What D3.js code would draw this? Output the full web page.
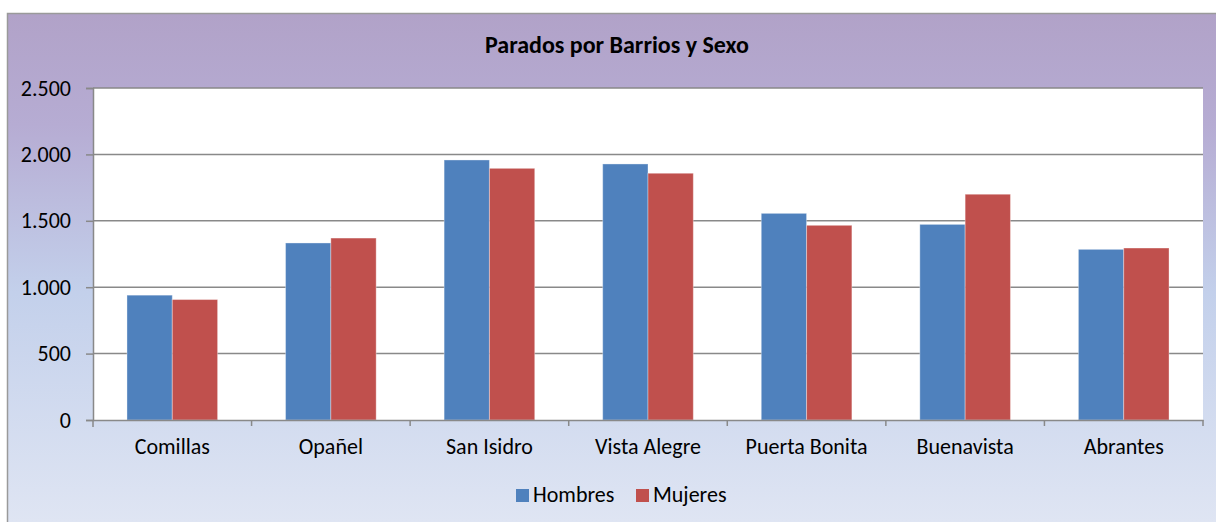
<!DOCTYPE html>
<html>
<head>
<meta charset="utf-8">
<script src="https://cdn.jsdelivr.net/npm/d3@7"></script>
<style>
  body { margin: 0; background: #fff; }
  svg { display: block; }
  text { font-family: Carlito, Lato, "Liberation Sans", sans-serif; fill: #000; }
</style>
</head>
<body>
<div id="chart"></div>
<script>
var barrios = ["Comillas", "Opañel", "San Isidro", "Vista Alegre", "Puerta Bonita", "Buenavista", "Abrantes"];
var series = ["Hombres", "Mujeres"];
var hombres = [940, 1333, 1958, 1928, 1556, 1473, 1285];
var mujeres = [907, 1370, 1895, 1858, 1466, 1700, 1295];
var yTicks = [0, 500, 1000, 1500, 2000, 2500];
var colors = ["#4f81bd", "#c0504d"];

var W = 1216, H = 522;
var plot = {left: 93, top: 88, right: 1203, bottom: 420};

var svg = d3.select("#chart").append("svg")
  .attr("width", W)
  .attr("height", H);

// background gradient
var grad = svg.append("defs").append("linearGradient")
  .attr("id", "bg")
  .attr("x1", 0).attr("y1", 0).attr("x2", 0).attr("y2", 1);
grad.append("stop").attr("offset", "0%").attr("stop-color", "#b1a2c8");
grad.append("stop").attr("offset", "22%").attr("stop-color", "#b6acd3");
grad.append("stop").attr("offset", "55%").attr("stop-color", "#c3d0eb");
grad.append("stop").attr("offset", "100%").attr("stop-color", "#dfe5f3");

svg.append("rect")
  .attr("x", 7).attr("y", 13)
  .attr("width", W - 7).attr("height", H - 13)
  .style("fill", "url(#bg)");
svg.append("path")
  .attr("d", "M7.5," + H + "V13.5H" + W)
  .style("fill", "none")
  .style("stroke", "#9a9a9a")
  .style("stroke-width", 1.5);

svg.append("rect")
  .attr("x", plot.left).attr("y", plot.top)
  .attr("width", plot.right - plot.left).attr("height", plot.bottom - plot.top)
  .style("fill", "#fff");

var x0 = d3.scaleBand()
  .domain(barrios)
  .range([plot.left, plot.right])
  .paddingInner(0)
  .paddingOuter(0);

var step = x0.bandwidth();
var barW = step / 3.5;

var x1 = d3.scaleBand()
  .domain(series)
  .range([(step - 2 * barW) / 2, (step + 2 * barW) / 2]);

var y = d3.scaleLinear()
  .domain([0, 2500])
  .range([plot.bottom, plot.top]);

// gridlines
svg.append("g")
  .selectAll("line")
  .data(yTicks.slice(1))
  .join("line")
  .attr("x1", plot.left)
  .attr("x2", plot.right)
  .attr("y1", function(d) { return y(d); })
  .attr("y2", function(d) { return y(d); })
  .style("stroke", "#898989")
  .style("stroke-width", 1.5);

// bars
var rows = barrios.map(function(b, i) {
  return {barrio: b, values: [hombres[i], mujeres[i]]};
});

var groups = svg.append("g")
  .selectAll("g")
  .data(rows)
  .join("g")
  .attr("transform", function(d) { return "translate(" + x0(d.barrio) + ",0)"; });

groups.selectAll("rect")
  .data(function(d) { return d.values.map(function(v, j) { return {s: series[j], v: v, j: j}; }); })
  .join("rect")
  .attr("x", function(d) { return x1(d.s); })
  .attr("y", function(d) { return y(d.v); })
  .attr("width", x1.bandwidth())
  .attr("height", function(d) { return y(0) - y(d.v); })
  .style("fill", function(d) { return colors[d.j]; })
  .style("stroke", "rgba(255,255,255,0.35)")
  .style("stroke-width", 1);

// y axis
var yAxis = svg.append("g")
  .attr("transform", "translate(" + plot.left + ",0)")
  .call(d3.axisLeft(y)
    .tickValues(yTicks)
    .tickSize(7)
    .tickPadding(15)
    .tickFormat(function(d) { return d3.format(",")(d).replace(/,/g, "."); }));
yAxis.select(".domain").style("stroke", "#898989").style("stroke-width", 1.5);
yAxis.selectAll(".tick line").style("stroke", "#898989").style("stroke-width", 1.5);
yAxis.selectAll("text")
  .style("font-size", "22px")
  .style("fill", "#000")
  .attr("font-family", null);

// x axis
var xAxis = svg.append("g")
  .attr("transform", "translate(0," + plot.bottom + ")")
  .call(d3.axisBottom(x0).tickSize(0).tickPadding(18));
xAxis.select(".domain").style("stroke", "#898989").style("stroke-width", 1.5);
xAxis.selectAll("text")
  .style("font-size", "22px")
  .style("fill", "#000")
  .attr("font-family", null);

svg.append("g")
  .selectAll("line")
  .data(barrios)
  .join("line")
  .attr("x1", function(d) { return x0(d) + step; })
  .attr("x2", function(d) { return x0(d) + step; })
  .attr("y1", plot.bottom)
  .attr("y2", plot.bottom + 6)
  .style("stroke", "#898989")
  .style("stroke-width", 1.5);
svg.append("line")
  .attr("x1", plot.left).attr("x2", plot.left)
  .attr("y1", plot.bottom).attr("y2", plot.bottom + 7)
  .style("stroke", "#898989")
  .style("stroke-width", 1.5);

// title
svg.append("text")
  .attr("x", 617)
  .attr("y", 53)
  .attr("text-anchor", "middle")
  .style("font-size", "24px")
  .style("font-weight", "bold")
  .text("Parados por Barrios y Sexo");

// legend
var legendPos = [516, 636];
var legend = svg.append("g")
  .selectAll("g")
  .data(series)
  .join("g")
  .attr("transform", function(d, i) { return "translate(" + legendPos[i] + ",489)"; });
legend.append("rect")
  .attr("width", 13)
  .attr("height", 13)
  .style("fill", function(d, i) { return colors[i]; });
legend.append("text")
  .attr("x", 17)
  .attr("y", 13)
  .style("font-size", "22px")
  .text(function(d) { return d; });
</script>
</body>
</html>
